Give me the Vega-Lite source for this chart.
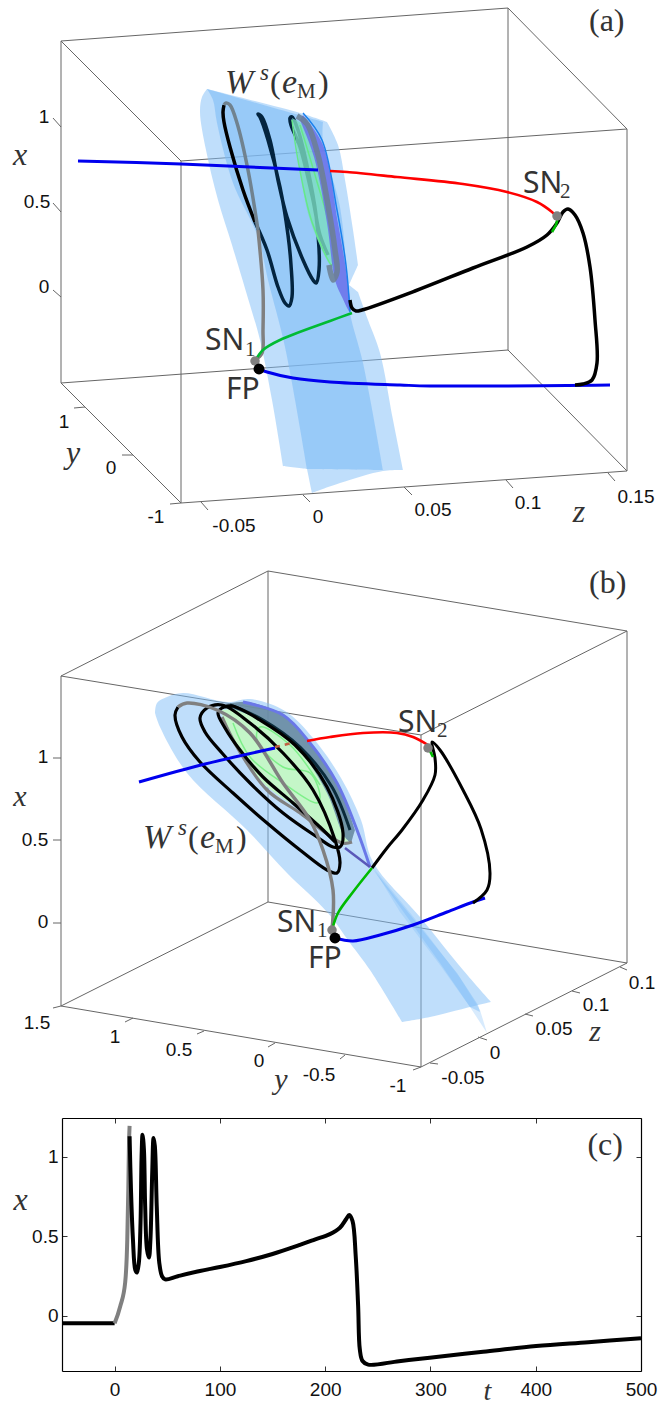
{
"$schema":"https://vega.github.io/schema/vega-lite/v6.json",
"padding":0,"spacing":0,"background":"white",
"config":{"view":{"stroke":null},"text":{"font":"Liberation Sans"}},
"datasets":{
"a_box":[{"sx":61,"sy":41,"ex":508,"ey":8},{"sx":61,"sy":41,"ex":181,"ey":161},{"sx":181,"sy":161,"ex":627,"ey":129},{"sx":508,"sy":8,"ex":627,"ey":129},{"sx":61,"sy":41,"ex":61,"ey":383},{"sx":181,"sy":161,"ex":181,"ey":503},{"sx":508,"sy":8,"ex":508,"ey":350},{"sx":627,"sy":129,"ex":627,"ey":471},{"sx":61,"sy":383,"ex":508,"ey":350},{"sx":61,"sy":383,"ex":181,"ey":503},{"sx":181,"sy":503,"ex":627,"ey":471},{"sx":508,"sy":350,"ex":627,"ey":471},
{"sx":61,"sy":127,"ex":53,"ey":118},{"sx":61,"sy":212,"ex":53,"ey":203},{"sx":61,"sy":297,"ex":53,"ey":290},{"sx":85,"sy":407,"ex":74,"ey":408},{"sx":133,"sy":455,"ex":122,"ey":455},{"sx":181,"sy":503,"ex":170,"ey":504},{"sx":201,"sy":502,"ex":208,"ey":510},{"sx":303,"sy":495,"ex":310,"ey":502},{"sx":404,"sy":487,"ex":412,"ey":495},{"sx":506,"sy":480,"ex":513,"ey":488},{"sx":608,"sy":473,"ex":615,"ey":481}],
"a_ticks":[{"sx":44,"sy":117,"label":"1"},{"sx":37,"sy":202,"label":"0.5"},{"sx":44,"sy":287,"label":"0"},{"sx":64,"sy":422,"label":"1"},{"sx":111,"sy":468,"label":"0"},{"sx":156,"sy":517,"label":"-1"},{"sx":234,"sy":526,"label":"-0.05"},{"sx":318,"sy":517,"label":"0"},{"sx":433,"sy":510,"label":"0.05"},{"sx":528,"sy":503,"label":"0.1"},{"sx":636,"sy":497,"label":"0.15"}],
"a_letters":[{"sx":20,"sy":155,"label":"x"},{"sx":73,"sy":453,"label":"y"},{"sx":579,"sy":512,"label":"z"}],
"a_math":[{"sx":225,"sy":93,"label":"W"},{"sx":282,"sy":93,"label":"e"}],
"a_mathsmall":[{"sx":260,"sy":80,"label":"s"}],
"a_serif":[{"sx":589,"sy":31,"label":"(a)"},{"sx":270,"sy":93,"label":"("},{"sx":318,"sy":93,"label":")"}],
"a_serifsmall":[{"sx":297,"sy":98,"label":"M"},{"sx":560,"sy":198,"label":"2"},{"sx":245,"sy":356,"label":"1"}],
"a_sans":[{"sx":523,"sy":193,"label":"SN"},{"sx":205,"sy":350,"label":"SN"},{"sx":226,"sy":399,"label":"FP"}],
"a_sheet1":[{"sx":207,"sy":89},{"sx":202,"sy":97},{"sx":200,"sy":112},{"sx":206,"sy":150},{"sx":218,"sy":200},{"sx":232,"sy":245},{"sx":250,"sy":305},{"sx":260,"sy":340},{"sx":272,"sy":400},{"sx":283,"sy":466},{"sx":283,"sy":466},{"sx":307,"sy":469},{"sx":307,"sy":469},{"sx":312,"sy":493},{"sx":312,"sy":493},{"sx":340,"sy":483},{"sx":383,"sy":471},{"sx":403,"sy":470},{"sx":403,"sy":470},{"sx":393,"sy":420},{"sx":380,"sy":353},{"sx":368,"sy":320},{"sx":358,"sy":292},{"sx":358,"sy":292},{"sx":349,"sy":285},{"sx":349,"sy":285},{"sx":358,"sy":265},{"sx":358,"sy":265},{"sx":353,"sy":230},{"sx":345,"sy":180},{"sx":338,"sy":145},{"sx":327,"sy":122},{"sx":327,"sy":122},{"sx":300,"sy":113},{"sx":207,"sy":89}],
"a_sheet2":[{"sx":207,"sy":89},{"sx":207,"sy":89},{"sx":213,"sy":100},{"sx":217,"sy":123},{"sx":233,"sy":183},{"sx":258,"sy":237},{"sx":268,"sy":280},{"sx":285,"sy":347},{"sx":307,"sy":469},{"sx":307,"sy":469},{"sx":383,"sy":470},{"sx":383,"sy":470},{"sx":363,"sy":363},{"sx":350,"sy":313},{"sx":347,"sy":277},{"sx":340,"sy":207},{"sx":323,"sy":143},{"sx":323,"sy":122},{"sx":323,"sy":122},{"sx":207,"sy":89}],
"a_purple":[{"sx":303,"sy":115},{"sx":323,"sy":145},{"sx":338,"sy":223},{"sx":347,"sy":277},{"sx":350,"sy":312},{"sx":342,"sy":297},{"sx":335,"sy":280},{"sx":327,"sy":223},{"sx":314,"sy":157},{"sx":300,"sy":120}],
"a_teal":[{"sx":292,"sy":118},{"sx":297,"sy":147},{"sx":310,"sy":220},{"sx":333,"sy":268},{"sx":334,"sy":240},{"sx":322,"sy":180},{"sx":305,"sy":125}],
"a_lime":[{"sx":292,"sy":120},{"sx":298,"sy":160},{"sx":312,"sy":222},{"sx":332,"sy":265},{"sx":330,"sy":230},{"sx":315,"sy":175},{"sx":300,"sy":125}],
"a_band":[{"sx":297,"sy":116},{"sx":307,"sy":124},{"sx":318,"sy":155},{"sx":328,"sy":205},{"sx":335,"sy":250},{"sx":337,"sy":272},{"sx":333,"sy":280},{"sx":329,"sy":265}],
"a_edge":[{"sx":303,"sy":113},{"sx":322,"sy":140},{"sx":337,"sy":210},{"sx":346,"sy":265},{"sx":350,"sy":312}],
"a_red":[{"sx":330,"sy":171},{"sx":347,"sy":172},{"sx":397,"sy":177},{"sx":463,"sy":184},{"sx":507,"sy":192},{"sx":537,"sy":202},{"sx":552,"sy":212},{"sx":557,"sy":217}],
"a_blue1":[{"sx":78,"sy":161},{"sx":181,"sy":164},{"sx":250,"sy":167},{"sx":318,"sy":170}],
"a_blue2":[{"sx":259,"sy":369},{"sx":267,"sy":372},{"sx":293,"sy":378},{"sx":330,"sy":382},{"sx":400,"sy":385},{"sx":430,"sy":386},{"sx":610,"sy":385}],
"a_green":[{"sx":255,"sy":361},{"sx":263,"sy":350},{"sx":280,"sy":340},{"sx":330,"sy":321},{"sx":352,"sy":313}],
"a_green2":[{"sx":552,"sy":232},{"sx":556,"sy":225},{"sx":558,"sy":217}],
"a_black1":[{"sx":224,"sy":105},{"sx":223,"sy":112},{"sx":224,"sy":122},{"sx":230,"sy":147},{"sx":243,"sy":190},{"sx":255,"sy":222}],
"a_navy":[{"sx":255,"sy":222},{"sx":267,"sy":250},{"sx":278,"sy":287},{"sx":285,"sy":303},{"sx":289,"sy":306},{"sx":292,"sy":297},{"sx":291,"sy":265},{"sx":288,"sy":235},{"sx":280,"sy":187},{"sx":268,"sy":140},{"sx":260,"sy":117},{"sx":258,"sy":114},{"sx":262,"sy":117},{"sx":270,"sy":140},{"sx":278,"sy":180},{"sx":287,"sy":217},{"sx":303,"sy":260},{"sx":313,"sy":280},{"sx":316,"sy":283},{"sx":319,"sy":270},{"sx":316,"sy":215},{"sx":308,"sy":170},{"sx":298,"sy":130},{"sx":292,"sy":117},{"sx":290,"sy":118},{"sx":291,"sy":125},{"sx":300,"sy":147},{"sx":313,"sy":200},{"sx":320,"sy":235},{"sx":328,"sy":255}],
"a_black2":[{"sx":350,"sy":300},{"sx":352,"sy":308},{"sx":356,"sy":311},{"sx":362,"sy":310},{"sx":415,"sy":291},{"sx":473,"sy":268},{"sx":527,"sy":247},{"sx":547,"sy":235},{"sx":557,"sy":223},{"sx":563,"sy":212},{"sx":568,"sy":209},{"sx":575,"sy":215},{"sx":583,"sy":233},{"sx":590,"sy":267},{"sx":595,"sy":320},{"sx":597,"sy":363},{"sx":592,"sy":380},{"sx":583,"sy":384},{"sx":575,"sy":385}],
"a_gray":[{"sx":255,"sy":360},{"sx":262,"sy":353},{"sx":263,"sy":330},{"sx":263,"sy":290},{"sx":258,"sy":230}],
"a_gray2":[{"sx":258,"sy":230},{"sx":248,"sy":170},{"sx":237,"sy":123},{"sx":230,"sy":105},{"sx":226,"sy":103},{"sx":224,"sy":105}],
"a_sn":[{"sx":557,"sy":216},{"sx":255,"sy":361}],
"a_fp":[{"sx":259,"sy":369}],
"anchor":[{"sx":1,"sy":1}],
"b_box":[{"sx":61,"sy":676,"ex":268,"ey":571},{"sx":268,"sy":571,"ex":627,"ey":631},{"sx":61,"sy":676,"ex":421,"ey":735},{"sx":421,"sy":735,"ex":627,"ey":631},{"sx":61,"sy":676,"ex":61,"ey":1006},{"sx":268,"sy":571,"ex":268,"ey":902},{"sx":627,"sy":631,"ex":627,"ey":963},{"sx":421,"sy":735,"ex":421,"ey":1067},{"sx":61,"sy":1006,"ex":268,"ey":902},{"sx":268,"sy":902,"ex":627,"ey":963},{"sx":61,"sy":1006,"ex":421,"ey":1067},{"sx":421,"sy":1067,"ex":627,"ey":963},
{"sx":61,"sy":758,"ex":53,"ey":758},{"sx":61,"sy":840,"ex":53,"ey":840},{"sx":61,"sy":923,"ex":53,"ey":923},{"sx":61,"sy":1006,"ex":53,"ey":1008},{"sx":133,"sy":1018,"ex":125,"ey":1022},{"sx":204,"sy":1031,"ex":197,"ey":1034},{"sx":275,"sy":1043,"ex":268,"ey":1047},{"sx":345,"sy":1055,"ex":340,"ey":1059},{"sx":421,"sy":1067,"ex":413,"ey":1070},{"sx":430,"sy":1063,"ex":438,"ey":1064},{"sx":478,"sy":1037,"ex":487,"ey":1040},{"sx":525,"sy":1014,"ex":533,"ey":1016},{"sx":572,"sy":991,"ex":580,"ey":993},{"sx":620,"sy":967,"ex":627,"ey":970}],
"b_ticks":[{"sx":43,"sy":757,"label":"1"},{"sx":35,"sy":840,"label":"0.5"},{"sx":43,"sy":922,"label":"0"},{"sx":37,"sy":1023,"label":"1.5"},{"sx":115,"sy":1037,"label":"1"},{"sx":179,"sy":1050,"label":"0.5"},{"sx":259,"sy":1061,"label":"0"},{"sx":319,"sy":1075,"label":"-0.5"},{"sx":398,"sy":1086,"label":"-1"},{"sx":463,"sy":1078,"label":"-0.05"},{"sx":495,"sy":1053,"label":"0"},{"sx":554,"sy":1029,"label":"0.05"},{"sx":596,"sy":1005,"label":"0.1"},{"sx":642,"sy":983,"label":"0.1"}],
"b_letters":[{"sx":20,"sy":797,"label":"x"},{"sx":281,"sy":1080,"label":"y"},{"sx":595,"sy":1032,"label":"z"}],
"b_math":[{"sx":143,"sy":848,"label":"W"},{"sx":200,"sy":848,"label":"e"}],
"b_mathsmall":[{"sx":178,"sy":835,"label":"s"}],
"b_serif":[{"sx":589,"sy":593,"label":"(b)"},{"sx":188,"sy":848,"label":"("},{"sx":236,"sy":848,"label":")"}],
"b_serifsmall":[{"sx":215,"sy":853,"label":"M"},{"sx":437,"sy":737,"label":"2"},{"sx":317,"sy":937,"label":"1"}],
"b_sans":[{"sx":398,"sy":732,"label":"SN"},{"sx":277,"sy":932,"label":"SN"},{"sx":308,"sy":968,"label":"FP"}],
"b_sheet":[{"sx":155,"sy":713},{"sx":157,"sy":703},{"sx":167,"sy":697},{"sx":183,"sy":693},{"sx":227,"sy":702},{"sx":250,"sy":699},{"sx":285,"sy":711},{"sx":313,"sy":738},{"sx":341,"sy":778},{"sx":361,"sy":820},{"sx":373,"sy":862},{"sx":420,"sy":917},{"sx":463,"sy":970},{"sx":491,"sy":1002},{"sx":491,"sy":1002},{"sx":478,"sy":1005},{"sx":430,"sy":1017},{"sx":402,"sy":1022},{"sx":402,"sy":1022},{"sx":370,"sy":970},{"sx":350,"sy":943},{"sx":328,"sy":913},{"sx":287,"sy":873},{"sx":247,"sy":830},{"sx":187,"sy":773},{"sx":160,"sy":727},{"sx":155,"sy":713}],
"b_streak":[{"sx":372,"sy":868},{"sx":420,"sy":927},{"sx":457,"sy":973},{"sx":478,"sy":1005},{"sx":480,"sy":1012},{"sx":470,"sy":1007},{"sx":440,"sy":963},{"sx":400,"sy":907}],
"b_tail":[{"sx":372,"sy":866},{"sx":400,"sy":912},{"sx":440,"sy":965},{"sx":470,"sy":1007},{"sx":487,"sy":1033},{"sx":480,"sy":1010},{"sx":460,"sy":978},{"sx":420,"sy":925}],
"b_greenfill":[{"sx":222,"sy":710},{"sx":247,"sy":710},{"sx":285,"sy":733},{"sx":325,"sy":785},{"sx":350,"sy":840},{"sx":337,"sy":843},{"sx":310,"sy":817},{"sx":263,"sy":783},{"sx":233,"sy":743},{"sx":223,"sy":722}],
"b_band":[{"sx":223,"sy":705},{"sx":247,"sy":702},{"sx":283,"sy":715},{"sx":310,"sy":743},{"sx":337,"sy":783},{"sx":355,"sy":830},{"sx":355,"sy":830},{"sx":351,"sy":843},{"sx":351,"sy":843},{"sx":344,"sy":836},{"sx":327,"sy":793},{"sx":297,"sy":747},{"sx":263,"sy":720}],
"b_purple":[{"sx":243,"sy":702},{"sx":283,"sy":715},{"sx":310,"sy":743},{"sx":337,"sy":783},{"sx":357,"sy":830},{"sx":370,"sy":867}],
"b_purple2":[{"sx":345,"sy":848},{"sx":370,"sy":867}],
"b_lime":[{"sx":233,"sy":723},{"sx":250,"sy":757},{"sx":283,"sy":783},{"sx":317,"sy":803},{"sx":320,"sy":797},{"sx":310,"sy":773},{"sx":283,"sy":767},{"sx":257,"sy":740},{"sx":260,"sy":727},{"sx":290,"sy":745},{"sx":320,"sy":785}],
"b_red":[{"sx":307,"sy":741},{"sx":330,"sy":737},{"sx":363,"sy":733},{"sx":397,"sy":733},{"sx":413,"sy":737},{"sx":428,"sy":745}],
"b_dash":[{"sx":275,"sy":747},{"sx":292,"sy":743}],
"b_blue1":[{"sx":139,"sy":782},{"sx":205,"sy":764},{"sx":275,"sy":748}],
"b_blue2":[{"sx":335,"sy":938},{"sx":353,"sy":941},{"sx":380,"sy":935},{"sx":413,"sy":925},{"sx":447,"sy":912},{"sx":473,"sy":902},{"sx":485,"sy":898}],
"b_green":[{"sx":332,"sy":930},{"sx":338,"sy":913},{"sx":353,"sy":892},{"sx":372,"sy":868}],
"b_green2":[{"sx":428,"sy":747},{"sx":433,"sy":757}],
"b_black1":[{"sx":178,"sy":707},{"sx":175,"sy":715},{"sx":182,"sy":737},{"sx":200,"sy":762},{"sx":233,"sy":793},{"sx":267,"sy":823},{"sx":300,"sy":850},{"sx":327,"sy":870},{"sx":337,"sy":873},{"sx":340,"sy":863},{"sx":335,"sy":840},{"sx":313,"sy":790},{"sx":283,"sy":753},{"sx":250,"sy":723},{"sx":222,"sy":705},{"sx":207,"sy":708},{"sx":200,"sy":718},{"sx":205,"sy":732},{"sx":222,"sy":753},{"sx":250,"sy":783},{"sx":283,"sy":813},{"sx":317,"sy":837},{"sx":333,"sy":847},{"sx":340,"sy":847},{"sx":343,"sy":833},{"sx":327,"sy":787},{"sx":295,"sy":745},{"sx":260,"sy":720},{"sx":232,"sy":706},{"sx":222,"sy":708},{"sx":218,"sy":713},{"sx":225,"sy":728},{"sx":240,"sy":750},{"sx":263,"sy":777},{"sx":293,"sy":803},{"sx":320,"sy":827},{"sx":335,"sy":842}],
"b_navy":[{"sx":350,"sy":830},{"sx":332,"sy":787},{"sx":300,"sy":747},{"sx":263,"sy":720},{"sx":230,"sy":705}],
"b_black2":[{"sx":372,"sy":868},{"sx":387,"sy":848},{"sx":402,"sy":830},{"sx":423,"sy":800},{"sx":435,"sy":775},{"sx":435,"sy":758},{"sx":432,"sy":742},{"sx":440,"sy":750},{"sx":463,"sy":790},{"sx":481,"sy":829},{"sx":490,"sy":873},{"sx":487,"sy":890},{"sx":473,"sy":903}],
"b_gray":[{"sx":332,"sy":930},{"sx":333,"sy":890},{"sx":323,"sy":850},{"sx":310,"sy":820},{"sx":283,"sy":783},{"sx":250,"sy":733},{"sx":217,"sy":710},{"sx":187,"sy":703},{"sx":178,"sy":707}],
"b_gray2":[{"sx":222,"sy":717},{"sx":237,"sy":747},{"sx":267,"sy":790},{"sx":300,"sy":813},{"sx":342,"sy":843},{"sx":352,"sy":842}],
"b_sn":[{"sx":428,"sy":748},{"sx":332,"sy":930}],
"b_fp":[{"sx":335,"sy":938}],
"c_flat":[{"t":-50,"v":-0.046},{"t":0,"v":-0.046}],
"c_gray":[{"t":0,"v":-0.046},{"t":5.4,"v":0.063},{"t":10,"v":0.21},{"t":12,"v":0.48},{"t":13,"v":0.8},{"t":13.6,"v":1.07},{"t":14.2,"v":1.195}],
"c_black":[{"t":14.2,"v":1.13},{"t":15.5,"v":0.8},{"t":17.4,"v":0.48},{"t":19.6,"v":0.29},{"t":21.2,"v":0.273},{"t":23,"v":0.335},{"t":24.6,"v":0.587},{"t":25.6,"v":1.0},{"t":26.5,"v":1.14},{"t":27.8,"v":1.05},{"t":29,"v":0.69},{"t":30.7,"v":0.42},{"t":32.6,"v":0.367},{"t":34,"v":0.48},{"t":35.7,"v":0.9},{"t":37,"v":1.12},{"t":38.2,"v":1.07},{"t":40,"v":0.69},{"t":42.4,"v":0.335},{"t":45,"v":0.25},{"t":48,"v":0.23},{"t":60,"v":0.25},{"t":81,"v":0.283},{"t":100,"v":0.308},{"t":125,"v":0.345},{"t":150,"v":0.39},{"t":176,"v":0.447},{"t":190,"v":0.48},{"t":204.5,"v":0.515},{"t":214,"v":0.555},{"t":220,"v":0.61},{"t":222.8,"v":0.635},{"t":226,"v":0.597},{"t":229,"v":0.377},{"t":231.3,"v":0.063},{"t":232.9,"v":-0.21},{"t":235.5,"v":-0.283},{"t":240.8,"v":-0.306},{"t":270,"v":-0.284},{"t":299.3,"v":-0.262},{"t":350,"v":-0.225},{"t":400.4,"v":-0.189},{"t":450,"v":-0.165},{"t":500,"v":-0.14}],
"c_panel":[{"t":466,"v":1.075,"label":"(c)"}]
},
"vconcat":[
{"width":597,"height":550,
"encoding":{"x":{"field":"sx","type":"quantitative","scale":{"domain":[62,659]},"axis":null},"y":{"field":"sy","type":"quantitative","scale":{"domain":[550,0]},"axis":null}},
"layer":[
{"data":{"name":"anchor"},"mark":{"type":"point","size":1,"opacity":0}},
{"data":{"name":"a_box"},"mark":{"type":"rule","color":"#666666","strokeWidth":1},"encoding":{"x2":{"field":"ex"},"y2":{"field":"ey"}}},
{"data":{"name":"a_sheet1"},"mark":{"type":"line","fill":"#7fbdf7","fillOpacity":0.5,"strokeWidth":0,"interpolate":"catmull-rom"},"encoding":{"order":{"value":null}}},
{"data":{"name":"a_sheet2"},"mark":{"type":"line","fill":"#7fbdf7","fillOpacity":0.6,"strokeWidth":0,"interpolate":"catmull-rom"},"encoding":{"order":{"value":null}}},
{"data":{"name":"a_black1"},"mark":{"type":"line","color":"#000000","strokeWidth":3.5,"interpolate":"catmull-rom"},"encoding":{"order":{"value":null}}},
{"data":{"name":"a_navy"},"mark":{"type":"line","color":"#03243f","strokeWidth":3.5,"interpolate":"catmull-rom"},"encoding":{"order":{"value":null}}},
{"data":{"name":"a_teal"},"mark":{"type":"line","fill":"#7adcc0","fillOpacity":0.8,"strokeWidth":0,"interpolate":"catmull-rom"},"encoding":{"order":{"value":null}}},
{"data":{"name":"a_lime"},"mark":{"type":"line","color":"#66e88a","strokeWidth":1.5,"interpolate":"catmull-rom"},"encoding":{"order":{"value":null}}},
{"data":{"name":"a_purple"},"mark":{"type":"line","fill":"#6a70ea","fillOpacity":0.85,"strokeWidth":0,"interpolate":"catmull-rom"},"encoding":{"order":{"value":null}}},
{"data":{"name":"a_band"},"mark":{"type":"line","color":"#6c7f92","strokeWidth":5.5,"opacity":0.85,"interpolate":"catmull-rom"},"encoding":{"order":{"value":null}}},
{"data":{"name":"a_edge"},"mark":{"type":"line","color":"#1a80ee","strokeWidth":1.5,"interpolate":"catmull-rom"},"encoding":{"order":{"value":null}}},
{"data":{"name":"a_gray"},"mark":{"type":"line","color":"#808080","strokeWidth":3.5,"interpolate":"catmull-rom"},"encoding":{"order":{"value":null}}},
{"data":{"name":"a_gray2"},"mark":{"type":"line","color":"#70828f","strokeWidth":3.5,"interpolate":"catmull-rom"},"encoding":{"order":{"value":null}}},
{"data":{"name":"a_red"},"mark":{"type":"line","color":"#ff0000","strokeWidth":2.6,"interpolate":"catmull-rom"},"encoding":{"order":{"value":null}}},
{"data":{"name":"a_blue1"},"mark":{"type":"line","color":"#0000ee","strokeWidth":3,"interpolate":"catmull-rom"},"encoding":{"order":{"value":null}}},
{"data":{"name":"a_blue2"},"mark":{"type":"line","color":"#0000ee","strokeWidth":3,"interpolate":"catmull-rom"},"encoding":{"order":{"value":null}}},
{"data":{"name":"a_black2"},"mark":{"type":"line","color":"#000000","strokeWidth":3.5,"interpolate":"catmull-rom"},"encoding":{"order":{"value":null}}},
{"data":{"name":"a_green"},"mark":{"type":"line","color":"#00bb33","strokeWidth":2.6,"interpolate":"catmull-rom"},"encoding":{"order":{"value":null}}},
{"data":{"name":"a_green2"},"mark":{"type":"line","color":"#00bb00","strokeWidth":2.6},"encoding":{"order":{"value":null}}},
{"data":{"name":"a_sn"},"mark":{"type":"circle","color":"#808080","size":90,"opacity":1}},
{"data":{"name":"a_fp"},"mark":{"type":"circle","color":"#000000","size":120,"opacity":1}},
{"data":{"name":"a_ticks"},"mark":{"type":"text","font":"Liberation Sans","fontSize":19,"color":"#111111","align":"center","baseline":"middle"},"encoding":{"text":{"field":"label"}}},
{"data":{"name":"a_letters"},"mark":{"type":"text","font":"Liberation Serif","fontStyle":"italic","fontSize":32,"color":"#333333","align":"center","baseline":"middle"},"encoding":{"text":{"field":"label"}}},
{"data":{"name":"a_math"},"mark":{"type":"text","font":"Liberation Serif","fontStyle":"italic","fontSize":34,"color":"#333333","align":"left","baseline":"alphabetic"},"encoding":{"text":{"field":"label"}}},
{"data":{"name":"a_mathsmall"},"mark":{"type":"text","font":"Liberation Serif","fontStyle":"italic","fontSize":23,"color":"#333333","align":"left","baseline":"alphabetic"},"encoding":{"text":{"field":"label"}}},
{"data":{"name":"a_serif"},"mark":{"type":"text","font":"Liberation Serif","fontSize":32,"color":"#333333","align":"left","baseline":"alphabetic"},"encoding":{"text":{"field":"label"}}},
{"data":{"name":"a_serifsmall"},"mark":{"type":"text","font":"Liberation Serif","fontSize":21,"color":"#333333","align":"left","baseline":"alphabetic"},"encoding":{"text":{"field":"label"}}},
{"data":{"name":"a_sans"},"mark":{"type":"text","font":"Noto Sans","fontSize":30,"color":"#333333","align":"left","baseline":"alphabetic"},"encoding":{"text":{"field":"label"}}}
]},
{"width":597,"height":567,
"encoding":{"x":{"field":"sx","type":"quantitative","scale":{"domain":[62,659]},"axis":null},"y":{"field":"sy","type":"quantitative","scale":{"domain":[1117,550]},"axis":null}},
"layer":[
{"data":{"name":"b_box"},"mark":{"type":"rule","color":"#666666","strokeWidth":1},"encoding":{"x2":{"field":"ex"},"y2":{"field":"ey"}}},
{"data":{"name":"b_sheet"},"mark":{"type":"line","fill":"#7fbdf7","fillOpacity":0.5,"strokeWidth":0,"interpolate":"catmull-rom"},"encoding":{"order":{"value":null}}},
{"data":{"name":"b_streak"},"mark":{"type":"line","fill":"#7fbdf7","fillOpacity":0.45,"strokeWidth":0},"encoding":{"order":{"value":null}}},
{"data":{"name":"b_tail"},"mark":{"type":"line","fill":"#7fbdf7","fillOpacity":0.3,"strokeWidth":0},"encoding":{"order":{"value":null}}},
{"data":{"name":"b_greenfill"},"mark":{"type":"line","fill":"#c4f6c8","fillOpacity":1,"strokeWidth":0,"interpolate":"catmull-rom"},"encoding":{"order":{"value":null}}},
{"data":{"name":"b_lime"},"mark":{"type":"line","color":"#7ef08a","strokeWidth":1.5,"interpolate":"catmull-rom"},"encoding":{"order":{"value":null}}},
{"data":{"name":"b_band"},"mark":{"type":"line","fill":"#688ba2","fillOpacity":0.9,"strokeWidth":0,"interpolate":"catmull-rom"},"encoding":{"order":{"value":null}}},
{"data":{"name":"b_purple"},"mark":{"type":"line","color":"#6a78e8","strokeWidth":3,"interpolate":"catmull-rom"},"encoding":{"order":{"value":null}}},
{"data":{"name":"b_purple2"},"mark":{"type":"line","color":"#5a58b8","strokeWidth":2.5},"encoding":{"order":{"value":null}}},
{"data":{"name":"b_gray2"},"mark":{"type":"line","color":"#808080","strokeWidth":3.2,"interpolate":"catmull-rom"},"encoding":{"order":{"value":null}}},
{"data":{"name":"b_navy"},"mark":{"type":"line","color":"#0a2a3a","strokeWidth":3,"interpolate":"catmull-rom"},"encoding":{"order":{"value":null}}},
{"data":{"name":"b_black1"},"mark":{"type":"line","color":"#000000","strokeWidth":3.2,"interpolate":"catmull-rom"},"encoding":{"order":{"value":null}}},
{"data":{"name":"b_gray"},"mark":{"type":"line","color":"#808080","strokeWidth":3.5,"interpolate":"catmull-rom"},"encoding":{"order":{"value":null}}},
{"data":{"name":"b_dash"},"mark":{"type":"line","color":"#c06040","strokeWidth":2.5,"strokeDash":[5,5]},"encoding":{"order":{"value":null}}},
{"data":{"name":"b_red"},"mark":{"type":"line","color":"#ff0000","strokeWidth":2.6,"interpolate":"catmull-rom"},"encoding":{"order":{"value":null}}},
{"data":{"name":"b_blue1"},"mark":{"type":"line","color":"#0000ee","strokeWidth":3,"interpolate":"catmull-rom"},"encoding":{"order":{"value":null}}},
{"data":{"name":"b_blue2"},"mark":{"type":"line","color":"#0000ee","strokeWidth":3,"interpolate":"catmull-rom"},"encoding":{"order":{"value":null}}},
{"data":{"name":"b_black2"},"mark":{"type":"line","color":"#000000","strokeWidth":3,"interpolate":"catmull-rom"},"encoding":{"order":{"value":null}}},
{"data":{"name":"b_green"},"mark":{"type":"line","color":"#00bb00","strokeWidth":2.6,"interpolate":"catmull-rom"},"encoding":{"order":{"value":null}}},
{"data":{"name":"b_green2"},"mark":{"type":"line","color":"#00bb00","strokeWidth":2.6},"encoding":{"order":{"value":null}}},
{"data":{"name":"b_sn"},"mark":{"type":"circle","color":"#808080","size":90,"opacity":1}},
{"data":{"name":"b_fp"},"mark":{"type":"circle","color":"#000000","size":120,"opacity":1}},
{"data":{"name":"b_ticks"},"mark":{"type":"text","font":"Liberation Sans","fontSize":19,"color":"#111111","align":"center","baseline":"middle"},"encoding":{"text":{"field":"label"}}},
{"data":{"name":"b_letters"},"mark":{"type":"text","font":"Liberation Serif","fontStyle":"italic","fontSize":30,"color":"#333333","align":"center","baseline":"middle"},"encoding":{"text":{"field":"label"}}},
{"data":{"name":"b_math"},"mark":{"type":"text","font":"Liberation Serif","fontStyle":"italic","fontSize":34,"color":"#333333","align":"left","baseline":"alphabetic"},"encoding":{"text":{"field":"label"}}},
{"data":{"name":"b_mathsmall"},"mark":{"type":"text","font":"Liberation Serif","fontStyle":"italic","fontSize":23,"color":"#333333","align":"left","baseline":"alphabetic"},"encoding":{"text":{"field":"label"}}},
{"data":{"name":"b_serif"},"mark":{"type":"text","font":"Liberation Serif","fontSize":32,"color":"#333333","align":"left","baseline":"alphabetic"},"encoding":{"text":{"field":"label"}}},
{"data":{"name":"b_serifsmall"},"mark":{"type":"text","font":"Liberation Serif","fontSize":21,"color":"#333333","align":"left","baseline":"alphabetic"},"encoding":{"text":{"field":"label"}}},
{"data":{"name":"b_sans"},"mark":{"type":"text","font":"Noto Sans","fontSize":30,"color":"#333333","align":"left","baseline":"alphabetic"},"encoding":{"text":{"field":"label"}}}
]},
{"width":579,"height":253,
"resolve":{"axis":{"x":"independent","y":"independent"}},
"layer":[
{"data":{"name":"c_flat"},"mark":{"type":"line","color":"#000000","strokeWidth":4},
"encoding":{"x":{"field":"t","type":"quantitative","scale":{"domain":[-50,500],"nice":false,"zero":false},
"axis":{"orient":"bottom","values":[0,100,200,300,400,500],"grid":false,"title":"t","titleX":425,"titleY":20,"titleBaseline":"middle","titleFont":"Liberation Serif","titleFontStyle":"italic","titleFontWeight":"normal","titleFontSize":28,"titleColor":"#333333","tickSize":-5,"tickColor":"#333333","domainColor":"#000000","domainWidth":1.2,"labelFont":"Liberation Sans","labelFontSize":19,"labelColor":"#111111","labelPadding":14,"labelFlush":false,"labelOverlap":false,"labelBound":false}},
"y":{"field":"v","type":"quantitative","scale":{"domain":[-0.346,1.245],"nice":false,"zero":false},
"axis":{"orient":"left","values":[0,0.5,1],"format":"~g","grid":false,"title":"x","titleAngle":0,"titleX":-42,"titleY":81,"titleBaseline":"middle","titleFont":"Liberation Serif","titleFontStyle":"italic","titleFontWeight":"normal","titleFontSize":32,"titleColor":"#333333","tickSize":-5,"tickColor":"#333333","domainColor":"#000000","domainWidth":1.2,"labelFont":"Liberation Sans","labelFontSize":19,"labelColor":"#111111","labelPadding":9,"labelFlush":false,"labelOverlap":false,"labelBound":false}}}},
{"data":{"name":"c_gray"},"mark":{"type":"line","color":"#808080","strokeWidth":4,"interpolate":"monotone"},
"encoding":{"x":{"field":"t","type":"quantitative","scale":{"domain":[-50,500],"nice":false,"zero":false},
"axis":{"orient":"top","values":[0,100,200,300,400,500],"grid":false,"title":null,"labels":false,"tickSize":-5,"tickColor":"#333333","domainColor":"#000000","domainWidth":1.2}},
"y":{"field":"v","type":"quantitative","scale":{"domain":[-0.346,1.245],"nice":false,"zero":false},
"axis":{"orient":"right","values":[0,0.5,1],"grid":false,"title":null,"labels":false,"tickSize":-5,"tickColor":"#333333","domainColor":"#000000","domainWidth":1.2}}}},
{"data":{"name":"c_black"},"mark":{"type":"line","color":"#000000","strokeWidth":4,"interpolate":"catmull-rom"},
"encoding":{"order":{"value":null},"x":{"field":"t","type":"quantitative","scale":{"domain":[-50,500],"nice":false,"zero":false},"axis":null},"y":{"field":"v","type":"quantitative","scale":{"domain":[-0.346,1.245],"nice":false,"zero":false},"axis":null}}},
{"data":{"name":"c_panel"},"mark":{"type":"text","font":"Liberation Serif","fontSize":32,"color":"#333333","align":"center","baseline":"middle"},
"encoding":{"text":{"field":"label"},"x":{"field":"t","type":"quantitative","scale":{"domain":[-50,500],"nice":false,"zero":false},"axis":null},"y":{"field":"v","type":"quantitative","scale":{"domain":[-0.346,1.245],"nice":false,"zero":false},"axis":null}}}
]}
]
}
